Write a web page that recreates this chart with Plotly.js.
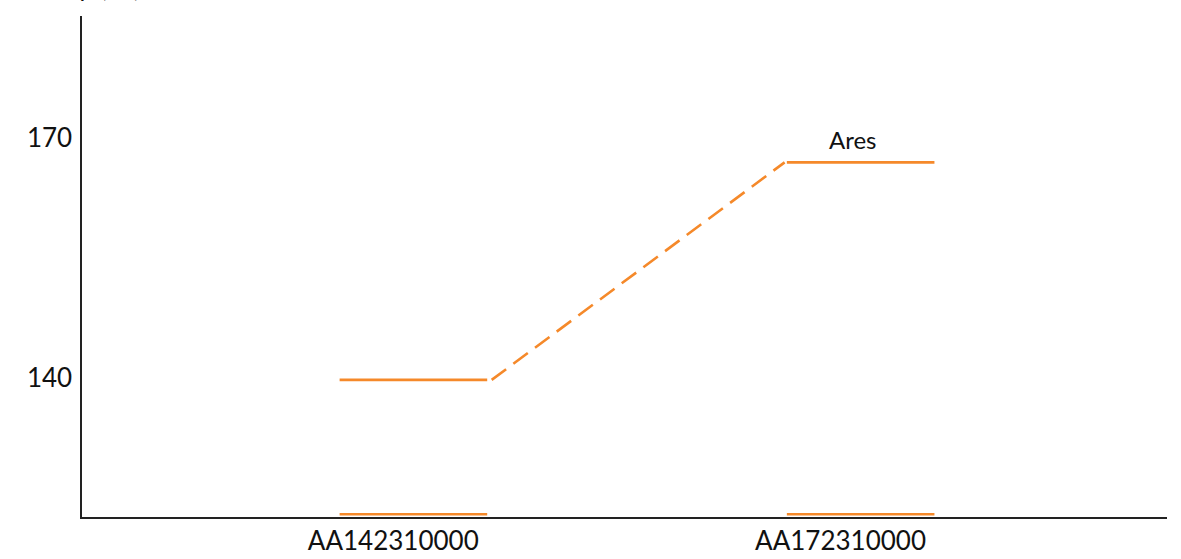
<!DOCTYPE html>
<html>
<head>
<meta charset="utf-8">
<script src="https://cdn.plot.ly/plotly-3.0.1.min.js"></script>
<style>html,body{margin:0;padding:0;background:#fff;}#chart{width:1181px;height:559px;}</style>
</head>
<body>
<div id="chart"></div>
<script>
// Data
const categories = ['AA142310000', 'AA172310000'];
const levels = [139.8, 167.0];
const baseLevels = [123.0, 123.0];
const levelLabels = ['', 'Ares'];
const yTicks = [140, 170];
const yTitle = 'Temp (°C)';

const color = '#f5892a';
const left = 0.12, right = 0.21;
const traces = [];
categories.forEach((c, i) => {
  traces.push({x: [i - left, i + right], y: [levels[i], levels[i]], mode: 'lines',
    line: {color: color, width: 2.6}, hoverinfo: 'skip', showlegend: false});
  traces.push({x: [i - left, i + right], y: [baseLevels[i], baseLevels[i]], mode: 'lines',
    line: {color: color, width: 2.6}, hoverinfo: 'skip', showlegend: false});
});
for (let i = 0; i < categories.length - 1; i++) {
  traces.push({x: [i + right + 0.01, i + 1 - left - 0.005], y: [levels[i], levels[i + 1]], mode: 'lines',
    line: {color: color, width: 2.6, dash: '18px,9px'}, hoverinfo: 'skip', showlegend: false});
}
const annotations = [];
levelLabels.forEach((t, i) => {
  if (t) annotations.push({x: i + 0.027, y: levels[i], xref: 'x', yref: 'y', text: t, showarrow: false,
    yshift: 23, font: {size: 24, color: '#111'}});
});
annotations.push({x: 0, y: 1, xref: 'paper', yref: 'paper', xanchor: 'left', yanchor: 'bottom', xshift: -50, yshift: 12,
  text: yTitle, showarrow: false, font: {size: 25, color: '#111'}});

const font = "Lato, 'Open Sans', sans-serif";
Plotly.newPlot('chart', traces, {
  width: 1181, height: 559,
  margin: {l: 82, r: 14, t: 16, b: 42, pad: 0},
  paper_bgcolor: '#fff', plot_bgcolor: '#fff',
  font: {family: font, color: '#111', size: 25},
  xaxis: {range: [-0.696, 1.73], tickvals: categories.map((c, i) => i), ticktext: categories,
    showgrid: false, zeroline: false, showline: true, linecolor: '#222', linewidth: 1.6,
    ticks: '', ticklabelstandoff: 0, tickfont: {size: 26}, fixedrange: true},
  yaxis: {range: [122.66, 185.3], tickvals: yTicks, ticktext: yTicks.map(String),
    showgrid: false, zeroline: false, showline: true, linecolor: '#222', linewidth: 1.6,
    ticks: '', ticklabelstandoff: 3, tickfont: {size: 26}, fixedrange: true},
  annotations: annotations,
  showlegend: false
}, {displayModeBar: false, staticPlot: true});
</script>
</body>
</html>
